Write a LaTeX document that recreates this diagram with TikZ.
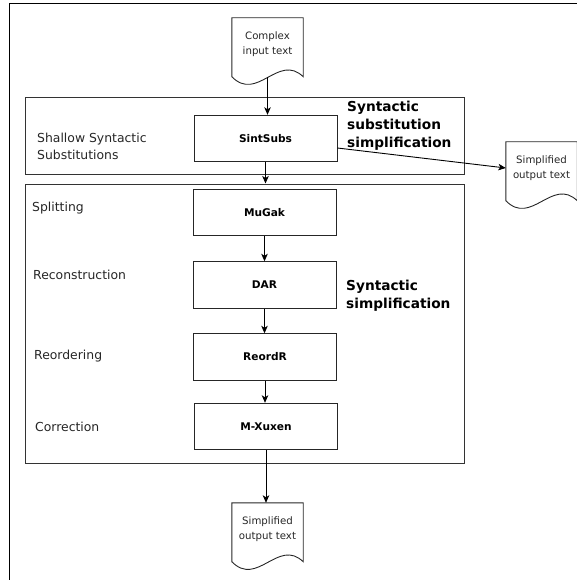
\documentclass[tikz,border=0pt]{standalone}
\usepackage{fontspec}
\setmainfont{DejaVu Sans}
\usetikzlibrary{arrows.meta}

% outline of a "document" symbol around a named node: flat top, wavy bottom
\newcommand\docoutline[1]{%
  \draw[docline] ([yshift=-6.5pt]#1.south west) -- (#1.north west) -- (#1.north east)
    -- ([yshift=-6.5pt]#1.south east)
    .. controls ([xshift=-25pt,yshift=17.5pt]#1.south east)
       and ([xshift=-46pt,yshift=-32.5pt]#1.south east)
    .. ([yshift=-6.5pt]#1.south west) -- cycle;}

\tikzset{
  docline/.style={draw=black!85, line width=0.9pt},
  docnode/.style={minimum width=71pt, minimum height=52pt, inner sep=0pt, align=center,
    font=\fontsize{10.2}{14.5}\selectfont, text=black!85},
  groupbox/.style={draw=black!80, line width=1pt, inner sep=0pt},
  toolbox/.style={draw=black!85, line width=0.9pt, fill=white, minimum width=143pt,
    minimum height=46.5pt, inner sep=0pt, font=\fontsize{10.6}{12}\selectfont\bfseries},
  stage/.style={anchor=base west, inner sep=0pt, align=left,
    font=\fontsize{12.4}{17}\selectfont, text=black!85},
  heading/.style={anchor=west, inner sep=0pt, align=left,
    font=\fontsize{13.7}{17.8}\selectfont\bfseries},
  flow/.style={draw=black, line width=0.9pt, -{Stealth[length=7.5pt,width=6.5pt,inset=2pt]}},
  frame/.style={draw=black, line width=1.6pt}
}

\begin{document}
\begin{tikzpicture}[x=1pt, y=-1pt]
  \useasboundingbox (0,0) rectangle (577,580);
  \clip (0,0) rectangle (577,580);

  % outer frame (top and left edges)
  \draw[frame] (590,3.5) -- (9.5,3.5) -- (9.5,590);

  % group boxes
  \node[groupbox, minimum width=439pt, minimum height=76pt] (subgroup) at (244.5,136) {};
  \node[groupbox, minimum width=439pt, minimum height=279pt] (simpgroup) at (244.5,323.5) {};

  % documents
  \node[docnode] (cin) at (267.5,44) {Complex\\input text};
  \docoutline{cin}
  \node[docnode] (rdoc) at (541.5,168) {Simplified\\output text};
  \docoutline{rdoc}
  \node[docnode] (bdoc) at (267.5,529) {Simplified\\output text};
  \docoutline{bdoc}

  % tools
  \node[toolbox] (sint) at (265.5,138.5) {SintSubs};
  \node[toolbox] (mugak) at (264.5,212.5) {MuGak};
  \node[toolbox] (dar) at (264.5,285) {DAR};
  \node[toolbox] (reord) at (265,357) {ReordR};
  \node[toolbox] (mxux) at (266,426.5) {M-Xuxen};

  % stage labels (base anchor sits on the last line)
  \node[stage] (lshallow) at (37,159.5) {Shallow Syntactic\\Substitutions};
  \node[stage] (lsplit) at (32,211) {Splitting};
  \node[stage] (lrec) at (33,279.5) {Reconstruction};
  \node[stage] (lreord) at (34,359.5) {Reordering};
  \node[stage] (lcorr) at (35,431.5) {Correction};

  % group headings
  \node[heading] (hsub) at (347,125.5) {Syntactic\\substitution\\simplification};
  \node[heading] (hsimp) at (346,295.5) {Syntactic\\simplification};

  % connectors
  \draw[flow] ([yshift=-6.5pt]cin.south) -- (cin.south |- sint.north);
  \draw[flow] (sint.south) -- (sint.south |- simpgroup.north);
  \draw[flow] ([yshift=-9.5pt]sint.east) -- (rdoc.west);
  \draw[flow] (mugak.south) -- (mugak.south |- dar.north);
  \draw[flow] (dar.south) -- (dar.south |- reord.north);
  \draw[flow] (reord.south) -- (reord.south |- mxux.north);
  \draw[flow] (mxux.south) -- (mxux.south |- bdoc.north);
\end{tikzpicture}
\end{document}
